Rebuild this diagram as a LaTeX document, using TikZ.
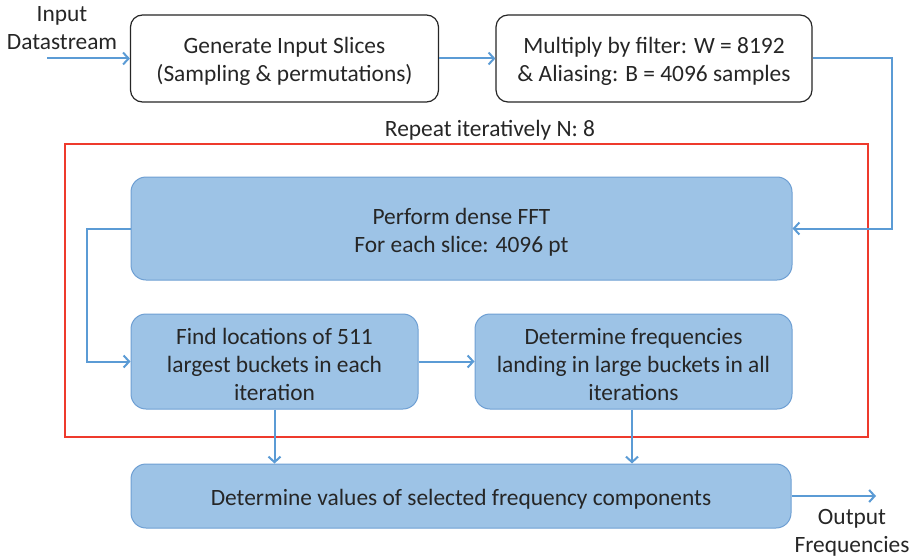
\documentclass[tikz,border=0pt]{standalone}
\usepackage{fontspec}
\setmainfont{Carlito}
\usetikzlibrary{arrows.meta}
\definecolor{flowblue}{HTML}{5B9BD5}
\definecolor{boxfill}{HTML}{9DC3E6}
\definecolor{boxedge}{HTML}{6E9FD3}
\definecolor{loopred}{HTML}{EE3A2C}
\definecolor{txt}{HTML}{262626}
% tall strut on a box's first line: sets the text slightly below the box centre
\newcommand{\topstrut}{\rule{0pt}{23pt}}
\tikzset{
  every node/.style={text=txt, font=\fontsize{23.4}{28}\selectfont},
  boxtext/.style={align=center, inner sep=0pt},
  plainbox/.style={boxtext, draw=black!85, line width=1.2pt, fill=white, rounded corners=12pt},
  bluebox/.style={boxtext, draw=boxedge, line width=1pt, fill=boxfill, rounded corners=15pt},
  flow/.style={draw=flowblue, line width=2pt, -{Straight Barb[length=5.5pt,width=12pt,line width=2pt]}},
  label/.style={align=center, inner sep=0pt}
}
\begin{document}
\begin{tikzpicture}[x=1pt, y=-1pt]
\useasboundingbox (0,0) rectangle (909,559);

% repeat loop frame
\draw[loopred, line width=1.3pt] (65,144) rectangle (868,437);
\node[label] (rep) at (490,130) {Repeat iteratively N: 8};

% top row
\node[plainbox, minimum width=308pt, minimum height=87pt] (gen) at (284.5,58.5)
  {\topstrut Generate Input Slices\\(Sampling \& permutations)};
\node[plainbox, minimum width=316pt, minimum height=87pt] (mul) at (654,58.5)
  {\topstrut Multiply by filter: W = 8192\\\& Aliasing: B = 4096 samples};

% inside the loop
\node[bluebox, minimum width=661pt, minimum height=103pt] (fft) at (461.5,228.5)
  {\topstrut Perform dense FFT\\For each slice: 4096 pt};
\node[bluebox, minimum width=287pt, minimum height=95pt] (find) at (274.5,361.5)
  {\topstrut Find locations of 511\\largest buckets in each\\iteration};
\node[bluebox, minimum width=317pt, minimum height=95pt] (det) at (633.5,361.5)
  {\topstrut Determine frequencies\\landing in large buckets in all\\iterations};

% final stage
\node[bluebox, minimum width=660pt, minimum height=64pt] (val) at (461,496)
  {\topstrut Determine values of selected frequency components};

% external labels
\node[label] (inlbl) at (62,28.5) {Input\\Datastream};
\node[label] (outlbl) at (852,533) {Output\\Frequencies};
\coordinate (src) at (47,58.5);
\coordinate (sink) at (876,496);

% connectors
\draw[flow] (src) -- (gen.west);
\draw[flow] (gen.east) -- (mul.west);
\draw[flow] (mul.east) -- ++(79,0) |- (fft.east);
\draw[flow] (fft.west) -- ++(-44,0) |- (find.west);
\draw[flow] (find.east) -- (det.west);
\draw[flow] (find.south) -- (find.south |- val.north);
\draw[flow] ([xshift=-1.5pt]det.south) -- ([xshift=-1.5pt]det.south |- val.north);
\draw[flow] (val.east) -- (sink);
\end{tikzpicture}
\end{document}
